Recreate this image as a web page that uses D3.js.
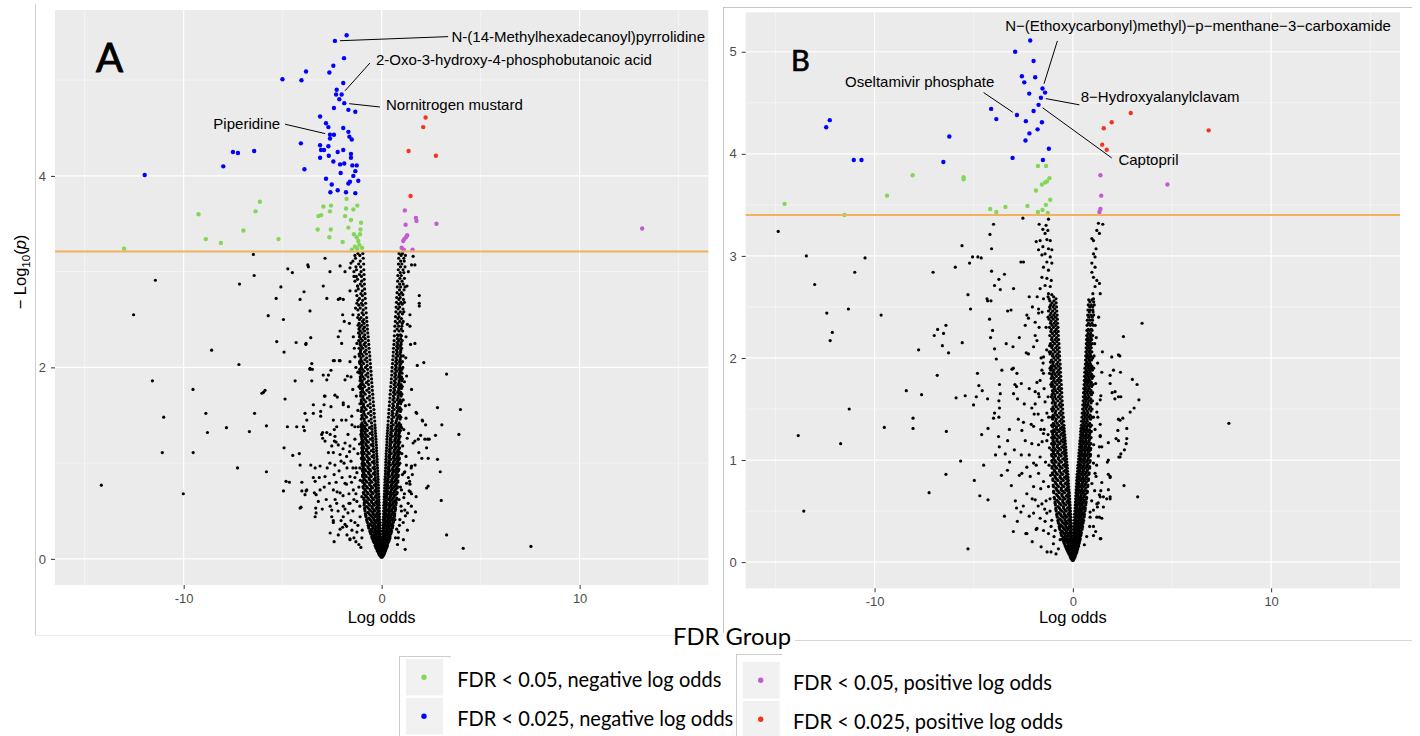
<!DOCTYPE html>
<html>
<head>
<meta charset="utf-8">
<script src="https://cdn.jsdelivr.net/npm/d3@7"></script>
<style>
  html, body { margin: 0; padding: 0; background: #ffffff; }
  svg { display: block; }
</style>
</head>
<body>
<svg id="fig" width="1420" height="736"></svg>
<script>
// ---------- axis ticks ----------
const xTicks = [-10, 0, 10];
const xMinorTicks = [-15, -5, 5, 15];
const yTicksA = [0, 2, 4];
const yMinorA = [1, 3, 5];
const yTicksB = [0, 1, 2, 3, 4, 5];
const yMinorB = [0.5, 1.5, 2.5, 3.5, 4.5];

// significance cut-offs (-log10 p) drawn as horizontal lines
const thresholdA = 3.21;
const thresholdB = 3.40;

// legend groups
const fdrGroups = [
  "FDR < 0.05, negative log odds",
  "FDR < 0.025, negative log odds",
  "FDR < 0.05, positive log odds",
  "FDR < 0.025, positive log odds"
];

// ---------- panel A : [log odds, -log10 p] ----------
const strongNegA = [[-1.77,5.47],[-2.36,5.41],[-1.90,5.23],[-2.44,5.15],[-2.64,5.08],[-3.82,5.09],[-4.05,5.00],[-5.01,5.01],[-1.94,4.97],[-2.27,4.90],[-2.30,4.85],[-2.02,4.85],[-2.14,4.80],[-1.89,4.76],[-2.41,4.71],[-1.68,4.69],[-1.33,4.67],[-3.11,4.62],[-2.81,4.55],[-2.69,4.51],[-1.94,4.50],[-1.68,4.46],[-2.61,4.43],[-2.41,4.43],[-2.61,4.39],[-1.63,4.41],[-1.51,4.38],[-4.08,4.34],[-3.11,4.32],[-2.69,4.31],[-3.06,4.27],[-2.91,4.27],[-1.94,4.27],[-2.22,4.25],[-1.55,4.23],[-2.67,4.21],[-3.11,4.19],[-1.55,4.19],[-7.51,4.25],[-7.26,4.24],[-6.44,4.26],[-8.00,4.10],[-3.90,4.07],[-2.44,4.15],[-2.10,4.12],[-1.89,4.13],[-1.48,4.11],[-1.26,4.11],[-2.07,4.03],[-1.43,4.00],[-2.81,3.97],[-2.52,3.91],[-1.68,3.92],[-1.60,3.94],[-1.18,3.95],[-2.22,3.85],[-2.59,3.83],[-1.80,3.83],[-11.97,4.01],[-1.33,4.05],[-1.33,3.82]];
const weakNegA = [[-13.01,3.24],[-9.25,3.60],[-8.88,3.34],[-8.12,3.30],[-6.98,3.43],[-6.37,3.63],[-6.15,3.73],[-5.21,3.34],[-3.23,3.44],[-3.20,3.58],[-3.06,3.59],[-2.94,3.68],[-2.61,3.63],[-2.56,3.69],[-2.57,3.44],[-2.64,3.36],[-1.97,3.31],[-1.77,3.76],[-1.80,3.66],[-1.85,3.58],[-1.68,3.46],[-1.55,3.54],[-1.43,3.65],[-1.51,3.23],[-1.23,3.69],[-1.04,3.51],[-1.40,3.39],[-1.26,3.36],[-1.18,3.32],[-1.13,3.28],[-1.35,3.26],[-1.23,3.24],[-1.09,3.39],[-0.99,3.25],[-1.07,3.44]];
const weakPosA = [[1.17,3.64],[1.21,3.49],[1.73,3.56],[1.76,3.53],[2.77,3.50],[1.29,3.38],[1.23,3.36],[1.14,3.34],[1.09,3.32],[1.01,3.25],[1.12,3.23],[1.56,3.23],[13.16,3.45]];
const strongPosA = [[2.22,4.61],[2.10,4.51],[1.36,4.26],[2.74,4.21],[1.46,3.79]];
const otherA = [[-6.48,3.18],[-2.86,3.14],[-2.10,3.06],[-1.55,3.09],[-6.44,2.96],[-3.73,3.07],[-3.70,3.05],[-4.74,3.03],[-4.51,2.99],[-2.61,3.00],[-1.85,3.00],[-11.43,2.91],[-7.18,2.87],[-5.09,2.84],[-3.92,2.79],[-2.95,2.85],[-5.33,2.72],[-2.77,2.72],[-2.10,2.72],
[-12.53,2.55],[-8.59,2.18],[-7.21,2.03],[-11.58,1.86],[-9.53,1.77],[-11.01,1.48],[-8.88,1.52],[-8.80,1.32],[-7.84,1.37],[-6.68,1.33],[-6.42,1.52],[-6.05,1.73],[-5.89,1.76],[-11.08,1.11],[-9.52,1.11],[-7.28,0.95],[-5.82,1.39],[-5.82,0.91],[-14.16,0.77],[-10.02,0.68],
[-4.12,2.71],[-3.62,2.59],[-5.73,2.54],[-4.96,2.50],[-5.30,2.27],[-4.93,2.16],[-4.32,2.26],[-3.83,2.24],[-3.58,2.31],[-3.62,1.99],[-3.53,2.04],[-3.50,1.98],[-4.37,1.86],[-3.53,1.86],[-4.88,1.67],[-5.97,1.74],[-3.87,1.52],[-3.45,1.61],[-4.76,1.38],[-4.29,1.38],[-3.95,1.38],[-3.90,1.34],[-4.93,1.16],[-4.49,1.08],[-4.16,1.10],[-4.12,0.98],[-3.58,0.98],[-3.36,0.95],[-4.83,0.81],[-4.66,0.80],[-4.96,0.71],[-4.03,0.80],[-4.03,0.71],[-3.82,0.71],[-3.87,0.67],[-3.45,0.85],[-3.40,0.69],[-3.31,0.67],[-4.07,0.54],[-3.33,0.53],[-3.31,0.48],[-3.36,0.44],[-3.08,1.54],[-3.08,1.49],[-2.98,1.32],[-2.98,1.26],[-2.89,1.70],[-2.19,2.71],[-1.94,2.71],[-2.69,1.92],[-2.77,1.87],[-2.56,1.97],[-2.39,2.07],[-2.10,2.07],[-2.36,1.71],[-2.24,1.69],[-2.39,1.35],[-2.36,1.28],[-2.39,1.23],[-2.19,0.25],[-1.97,0.33],[-1.60,0.21],[-2.44,0.40],[-2.52,0.44],
[-3.82,2.25],[-1.97,2.55],[-1.89,2.48],[-2.10,2.38],[-2.19,2.32],[-2.02,2.25],[-1.63,2.46],[-1.43,2.32],[-1.35,2.11],[-1.60,2.06],[-1.85,1.87],[-1.73,1.91],[-1.46,1.77],[-1.94,1.63],[-1.68,1.59],[-1.51,1.49],[-1.35,1.38],[-2.44,2.07],[-2.14,2.07],
[-3.62,1.98],[-2.95,1.92],[-2.86,1.70],[-2.91,1.61],[-2.56,1.59],[-1.94,1.61],[-3.45,1.52],[-3.78,1.45],[-2.44,1.45],[-2.27,1.38],[-2.02,1.45],[-3.03,1.30],[-2.77,1.32],[-2.86,1.23],[-2.52,1.18],[-2.19,1.19],[-1.85,1.21],[-1.60,1.18],[-2.69,1.11],[-2.44,1.11],[-2.10,1.09],[-1.77,1.07],[-2.61,1.00],[-2.36,0.98],[-3.11,0.97],[-3.36,0.81],[-3.78,0.72],[-4.12,0.53],[-3.11,0.72],[-2.86,0.86],[-2.64,0.79],[-2.44,0.72],[-2.10,0.69],[-1.85,0.79],[-1.60,0.86],[-1.43,0.72],[-2.27,0.58],[-1.94,0.55],[-1.60,0.58],[-2.52,0.51],[-2.44,0.38],[-2.10,0.31],[-1.77,0.34],[-1.94,0.44],[-1.60,0.20],[-1.35,0.38],[-1.09,0.44],
[-1.25,0.60],[-1.15,0.75],[-1.30,0.95],[-1.20,1.10],[-1.45,0.50],[-1.70,0.48],[-2.00,0.85],[-2.30,0.80],[-2.80,0.62],[-1.90,1.00],[-1.55,1.02],[-1.25,0.28],[-1.50,0.30],[-1.00,0.22],[-1.15,0.15],[-2.60,0.27],[-3.00,0.52],[-3.20,0.60],[-1.35,0.85],[-1.65,0.68],[-2.15,0.92],[-1.75,0.95],[-1.40,1.15],[-1.10,0.95],[-1.05,1.30],[-1.20,1.55],[-1.15,1.80],[-1.30,2.00],[-1.25,2.25],[-1.45,2.55],[-1.60,2.80],[-1.40,2.95],[-1.60,3.04],
[-1.05,0.12],[-1.30,0.18],[-1.75,0.25],[-2.05,0.40],[-1.85,0.52],[-1.55,0.40],[-1.20,0.35],[-0.98,0.30],[-1.10,0.55],[-1.40,0.62],[-1.95,0.66],[-2.25,0.70],[-2.60,0.55],[-2.75,0.95],[-2.40,0.88],[-1.78,0.78],[-1.52,0.80],[-1.25,0.90],[-1.00,0.65],[-1.08,0.82],[-1.62,1.12],[-1.95,1.15],[-2.30,1.22],[-2.60,1.30],[-1.35,1.25],[-1.12,1.20],[-1.70,1.30],[-2.05,1.02],[-2.35,0.62],[-2.90,0.75],[-3.15,0.85],[-1.45,0.95],[-1.30,0.68],[-1.65,0.58],[-2.20,0.50],[-1.85,0.36],[-1.40,0.22],[-2.40,0.18],[-1.02,1.05],[-1.18,1.38],[-1.50,1.40],[-1.80,1.45],[-1.10,1.62],[-1.28,1.70],[-1.55,1.90],[-1.20,1.95],[-1.38,2.20],[-1.15,2.40],[-1.32,2.62],[-1.22,2.85],
[3.28,1.93],[2.13,2.05],[1.80,2.02],[2.82,1.58],[3.98,1.56],[3.04,1.40],[2.22,1.40],[2.05,1.45],[3.90,1.30],[2.72,1.29],[1.74,1.53],[1.36,1.31],[1.97,1.29],[2.32,1.25],[1.68,1.23],[1.88,1.11],[2.03,1.05],[2.35,1.05],[2.82,1.04],[1.69,0.98],[1.49,0.95],[2.96,0.91],[2.27,0.74],[1.41,0.81],[1.26,0.79],[1.14,0.90],[3.01,0.61],[1.71,0.49],[3.28,0.25],[4.12,0.11],[7.54,0.13],[1.19,0.10],[1.90,2.67],[1.90,2.64],[1.43,2.55],[1.43,2.43],[1.23,2.32],[1.46,2.24],[1.59,3.16],[1.68,3.07],[1.51,3.07],[1.90,2.75],[1.77,1.52],[2.07,1.44],[1.85,1.25],[2.18,1.25],[2.40,1.25],[2.27,1.16],[1.51,0.97],[2.35,0.76],
[1.43,0.78],[1.39,0.71],[1.51,0.68],[1.74,0.65],[1.12,0.64],[1.34,0.58],[1.17,0.51],[0.92,0.41],[1.09,0.38],[0.76,0.31],[0.84,0.22],[0.67,0.41],[1.68,2.25],[1.26,1.91],[1.51,1.77],[1.09,1.66],[1.39,1.61],[1.23,1.47],[1.01,1.37],[1.29,1.26],[1.59,1.21],[1.06,1.18],[1.23,1.07],[0.92,1.00],[1.17,0.91],
[1.00,0.50],[1.20,0.45],[0.90,0.35],[1.30,0.30],[1.10,0.20],[0.80,0.15],[1.50,0.55],[1.60,0.40],[0.95,0.75],[1.35,0.85],[1.05,0.88],
[0.98,0.55],[1.15,0.68],[0.88,0.62],[1.25,0.98],[1.02,1.10],[1.12,1.35],[1.20,1.60],[1.15,1.85],[1.22,2.10],[1.30,2.45],[1.28,2.85],[1.35,3.00],[0.85,0.28],[0.70,0.22],[1.45,0.70],[1.55,0.88],[1.30,0.48],[1.00,0.72]];

// dense arms of the volcano, one row per -log10 p level: [y, x, x, ...]
const armNegA = [[0.02,-0.01,-0.04],[0.05,-0.02,-0.08,-0.14],[0.08,-0.03,-0.12,-0.21],[0.11,-0.02,-0.09,-0.17,-0.27],[0.14,-0.04,-0.15,-0.26,-0.33],[0.17,-0.05,-0.12,-0.22,-0.38],[0.20,-0.05,-0.18,-0.31,-0.44],[0.23,-0.06,-0.15,-0.27,-0.40,-0.50],[0.26,-0.07,-0.22,-0.36,-0.55],[0.29,-0.06,-0.17,-0.30,-0.47,-0.60],[0.32,-0.08,-0.25,-0.41,-0.64],[0.35,-0.09,-0.20,-0.35,-0.52,-0.68],[0.38,-0.08,-0.28,-0.46,-0.72],[0.41,-0.10,-0.22,-0.38,-0.58,-0.76],[0.44,-0.11,-0.31,-0.50,-0.79],[0.47,-0.10,-0.25,-0.43,-0.63,-0.82],[0.50,-0.12,-0.34,-0.55,-0.84],[0.53,-0.12,-0.27,-0.47,-0.68,-0.86],[0.56,-0.13,-0.37,-0.60,-0.88],[0.59,-0.13,-0.30,-0.50,-0.72,-0.87],[0.62,-0.14,-0.40,-0.64,-0.90],[0.65,-0.14,-0.32,-0.53,-0.76],[0.68,-0.15,-0.43,-0.68,-0.91],[0.71,-0.16,-0.35,-0.56,-0.80],[0.74,-0.16,-0.46,-0.71,-0.93],[0.77,-0.17,-0.37,-0.59,-0.84],[0.80,-0.18,-0.49,-0.74,-0.95],[0.83,-0.18,-0.39,-0.62,-0.87],[0.86,-0.19,-0.52,-0.77,-0.96],[0.89,-0.20,-0.42,-0.65,-0.90],[0.92,-0.20,-0.55,-0.80,-0.97],[0.95,-0.21,-0.44,-0.68,-0.92],[0.98,-0.22,-0.58,-0.83,-0.98],[1.01,-0.23,-0.47,-0.71,-0.94],[1.04,-0.23,-0.60,-0.86,-0.99],[1.07,-0.24,-0.49,-0.74,-0.96],[1.10,-0.25,-0.62,-0.88,-1.00],[1.13,-0.26,-0.52,-0.77,-0.97],[1.16,-0.26,-0.65,-0.90,-1.01],[1.19,-0.27,-0.54,-0.79,-0.98],[1.22,-0.28,-0.67,-0.92,-1.02],[1.25,-0.29,-0.57,-0.82,-0.99],[1.28,-0.30,-0.69,-0.93,-1.02],[1.31,-0.31,-0.59,-0.84,-1.00],[1.34,-0.32,-0.72,-0.95,-1.03],[1.37,-0.33,-0.62,-0.86,-1.01],[1.40,-0.34,-0.74,-0.96,-1.04],[1.44,-0.35,-0.64,-0.88],[1.48,-0.37,-0.76,-0.98],[1.52,-0.38,-0.67,-0.90],[1.56,-0.39,-0.78,-1.00],[1.60,-0.41,-0.70,-0.92],[1.64,-0.42,-0.80,-1.02],[1.68,-0.44,-0.72,-0.95],[1.72,-0.45,-0.83,-1.04],[1.76,-0.47,-0.75,-0.97],[1.80,-0.48,-0.85,-1.06],[1.84,-0.50,-0.77,-0.99],[1.88,-0.51,-0.87,-1.07],[1.92,-0.53,-0.80,-1.01],[1.96,-0.54,-0.89,-1.09],[2.00,-0.56,-0.82,-1.03],[2.04,-0.57,-0.91,-1.10],[2.08,-0.59,-0.85,-1.05],[2.12,-0.60,-0.93,-1.12],[2.16,-0.62,-0.87,-1.07],[2.20,-0.64,-0.95,-1.14],[2.24,-0.65,-0.89,-1.09],[2.28,-0.67,-0.97,-1.16],[2.32,-0.68,-0.92,-1.12],[2.36,-0.70,-0.99,-1.17],[2.40,-0.72,-0.94],[2.44,-0.73,-1.01,-1.19],[2.48,-0.75,-0.97],[2.52,-0.76,-1.04,-1.21],[2.57,-0.78,-0.99],[2.62,-0.80,-1.08],[2.67,-0.81,-1.02,-1.25],[2.72,-0.83,-1.12],[2.77,-0.84,-1.05],[2.82,-0.86,-1.18],[2.87,-0.87,-1.08],[2.92,-0.88,-1.22],[2.97,-0.89,-1.12],[3.02,-0.90,-1.27],[3.08,-0.91,-1.16],[3.14,-0.93,-1.32],[3.19,-0.95,-1.20],
[0.035,-0.03,-0.10],[0.065,-0.05,-0.16],[0.095,-0.06,-0.14,-0.23],[0.125,-0.06,-0.20,-0.30],[0.155,-0.08,-0.19,-0.30],[0.185,-0.09,-0.26,-0.41],[0.215,-0.11,-0.24,-0.37,-0.47],[0.245,-0.12,-0.30,-0.46],[0.275,-0.13,-0.26,-0.40,-0.57],[0.305,-0.14,-0.33,-0.52],[0.335,-0.15,-0.29,-0.45,-0.66],[0.365,-0.16,-0.38,-0.59],[0.395,-0.17,-0.33,-0.52,-0.74],[0.425,-0.18,-0.42,-0.65],[0.455,-0.19,-0.36,-0.56,-0.80],[0.485,-0.20,-0.45,-0.70],[0.515,-0.21,-0.40,-0.61,-0.85],[0.545,-0.22,-0.49,-0.75],[0.575,-0.23,-0.43,-0.65,-0.88],[0.605,-0.24,-0.52,-0.78],[0.635,-0.25,-0.46,-0.69,-0.89],[0.665,-0.26,-0.55,-0.82],[0.695,-0.27,-0.49,-0.72,-0.92],[0.725,-0.28,-0.58,-0.85],[0.755,-0.29,-0.52,-0.76,-0.94],[0.785,-0.30,-0.61,-0.88],[0.815,-0.31,-0.55,-0.79,-0.96],[0.845,-0.32,-0.64,-0.90],[0.875,-0.33,-0.58,-0.82,-0.97],[0.905,-0.34,-0.67,-0.92],[0.935,-0.35,-0.61,-0.85,-0.98],[0.965,-0.36,-0.70,-0.94],[0.995,-0.37,-0.64,-0.88,-0.99],[1.025,-0.38,-0.72,-0.95],[1.055,-0.39,-0.67,-0.90,-1.00],[1.085,-0.40,-0.75,-0.96],[1.115,-0.41,-0.69,-0.92,-1.01],[1.145,-0.42,-0.77,-0.97],[1.175,-0.43,-0.72,-0.94],[1.205,-0.44,-0.80,-0.99],[1.235,-0.45,-0.75,-0.96],[1.265,-0.46,-0.82,-1.00],[1.295,-0.47,-0.77,-0.97],[1.325,-0.48,-0.84,-1.01],[1.355,-0.49,-0.80,-0.98],[1.385,-0.50,-0.86,-1.02],[1.42,-0.51,-0.82,-0.99],[1.46,-0.53,-0.88,-1.03],[1.50,-0.54,-0.84,-1.00],[1.54,-0.55,-0.90,-1.04],[1.58,-0.57,-0.86,-1.01],[1.62,-0.58,-0.92,-1.05],[1.66,-0.60,-0.88,-1.03],[1.70,-0.61,-0.94,-1.06],[1.74,-0.63,-0.91,-1.05],[1.78,-0.64,-0.96,-1.08],[1.82,-0.66,-0.93,-1.07],[1.86,-0.67,-0.98,-1.09],[1.90,-0.69,-0.95,-1.08],[1.94,-0.70,-1.00,-1.10],[1.98,-0.71,-0.97,-1.11],[2.02,-0.73,-1.02],[2.06,-0.74,-0.99,-1.12],[2.10,-0.76,-1.04],[2.14,-0.77,-1.01,-1.14],[2.18,-0.79,-1.06],[2.22,-0.80,-1.03],[2.26,-0.82,-1.08],[2.30,-0.83,-1.05],[2.34,-0.85,-1.10],[2.38,-0.86,-1.08],
[2.42,-0.87,-1.10],[2.46,-0.89,-1.14],[2.50,-0.90,-1.12],[2.55,-0.92,-1.16],[2.60,-0.93,-1.20],[2.65,-0.95,-1.15],[2.70,-0.96,-1.20],[2.75,-0.97,-1.25],[2.80,-0.98,-1.30],[2.85,-0.99,-1.22],[2.90,-1.01,-1.35],[2.95,-1.02,-1.28],[3.00,-1.04,-1.40],[3.05,-1.06,-1.30],[3.11,-1.08,-1.45],[3.17,-1.10,-1.35]];
const armPosA = [[0.02,0.01,0.04],[0.05,0.02,0.07,0.13],[0.08,0.02,0.10,0.18],[0.11,0.03,0.08,0.15,0.23],[0.14,0.03,0.13,0.23,0.29],[0.17,0.04,0.11,0.20,0.33],[0.20,0.04,0.16,0.27,0.38],[0.23,0.05,0.13,0.24,0.35,0.42],[0.26,0.06,0.19,0.31,0.46],[0.29,0.06,0.15,0.27,0.40,0.50],[0.32,0.07,0.22,0.36,0.53],[0.35,0.07,0.17,0.30,0.44,0.56],[0.38,0.08,0.24,0.39,0.59],[0.41,0.08,0.19,0.33,0.48,0.61],[0.44,0.09,0.26,0.43,0.64],[0.47,0.10,0.21,0.36,0.52,0.66],[0.50,0.10,0.29,0.46,0.68],[0.53,0.11,0.23,0.39,0.56,0.70],[0.56,0.11,0.31,0.49,0.71],[0.59,0.12,0.25,0.42,0.59,0.73],[0.62,0.13,0.33,0.52,0.75],[0.65,0.13,0.27,0.44,0.62],[0.68,0.14,0.35,0.55,0.77],[0.71,0.15,0.29,0.47,0.65],[0.74,0.15,0.37,0.58,0.79],[0.77,0.16,0.31,0.49,0.68],[0.80,0.17,0.39,0.60,0.81],[0.83,0.17,0.33,0.52,0.71],[0.86,0.18,0.41,0.63,0.83],[0.89,0.19,0.35,0.54,0.73],[0.92,0.19,0.43,0.65,0.85],[0.95,0.20,0.37,0.57,0.76],[0.98,0.21,0.45,0.67,0.87],[1.01,0.21,0.39,0.59,0.78],[1.04,0.22,0.47,0.69,0.88],[1.07,0.23,0.41,0.61,0.80],[1.10,0.23,0.49,0.71,0.89],[1.13,0.24,0.43,0.63,0.82],[1.16,0.25,0.51,0.73,0.91],[1.19,0.26,0.45,0.65,0.84],[1.22,0.27,0.53,0.75,0.92],[1.25,0.27,0.47,0.68,0.86],[1.28,0.28,0.55,0.77,0.93],[1.31,0.29,0.49,0.70,0.88],[1.34,0.30,0.57,0.79,0.95],[1.37,0.31,0.51,0.72,0.89],[1.40,0.32,0.59,0.81,0.96],[1.44,0.33,0.54,0.74],[1.48,0.35,0.61,0.83,0.97],[1.52,0.36,0.57,0.77],[1.56,0.37,0.63,0.85,0.99],[1.60,0.39,0.60,0.80],[1.64,0.40,0.66,0.87,1.00],[1.68,0.42,0.63,0.83],[1.72,0.43,0.68,0.89,1.02],[1.76,0.45,0.66,0.86],[1.80,0.46,0.71,0.91,1.04],[1.84,0.48,0.69,0.88],[1.88,0.49,0.73,0.93,1.05],[1.92,0.51,0.72,0.90],[1.96,0.52,0.76,0.95],[2.00,0.53,0.74,0.92,1.07],[2.04,0.55,0.78,0.97],[2.08,0.56,0.77,0.94],[2.12,0.58,0.81,0.99,1.09],[2.16,0.59,0.79,0.96],[2.20,0.60,0.83,1.01],[2.24,0.62,0.82,0.98],[2.28,0.63,0.86,1.04],[2.33,0.64,0.84,1.00],[2.38,0.66,0.88,1.06],[2.43,0.67,0.86,1.02],[2.48,0.69,0.91,1.09],[2.53,0.70,0.88],[2.58,0.72,0.94,1.12],[2.63,0.73,0.91],[2.68,0.75,0.97,1.15],[2.73,0.76,0.94],[2.78,0.78,1.00],[2.84,0.79,0.96,1.18],[2.90,0.81,1.03],[2.96,0.82,0.99],[3.02,0.84,1.08],[3.08,0.85,1.02],[3.14,0.86,1.12],[3.19,0.88,1.05],
[0.035,0.03,0.09],[0.065,0.04,0.15],[0.095,0.05,0.13,0.21],[0.125,0.06,0.18,0.27],[0.155,0.07,0.17,0.28],[0.185,0.08,0.23,0.36],[0.215,0.09,0.21,0.32,0.41],[0.245,0.10,0.26,0.40],[0.275,0.11,0.23,0.35,0.48],[0.305,0.12,0.29,0.45],[0.335,0.13,0.26,0.39,0.55],[0.365,0.14,0.32,0.50],[0.395,0.15,0.29,0.44,0.60],[0.425,0.16,0.35,0.54],[0.455,0.17,0.32,0.48,0.65],[0.485,0.18,0.38,0.58],[0.515,0.19,0.35,0.52,0.69],[0.545,0.20,0.41,0.62],[0.575,0.21,0.38,0.56,0.72],[0.605,0.22,0.44,0.65],[0.635,0.23,0.41,0.59,0.76],[0.665,0.24,0.47,0.68],[0.695,0.25,0.44,0.62,0.78],[0.725,0.26,0.50,0.71],[0.755,0.27,0.47,0.65,0.80],[0.785,0.28,0.53,0.74],[0.815,0.29,0.50,0.68,0.82],[0.845,0.30,0.56,0.76],[0.875,0.31,0.52,0.71,0.84],[0.905,0.32,0.58,0.78],[0.935,0.33,0.55,0.73,0.86],[0.965,0.34,0.61,0.80],[0.995,0.35,0.57,0.75,0.88],[1.025,0.36,0.63,0.82],[1.055,0.37,0.60,0.77,0.89],[1.085,0.38,0.65,0.84],[1.115,0.39,0.62,0.79,0.90],[1.145,0.40,0.67,0.86],[1.175,0.41,0.64,0.81],[1.205,0.42,0.69,0.87],[1.235,0.43,0.66,0.83],[1.265,0.44,0.71,0.89],[1.295,0.45,0.68,0.85],[1.325,0.46,0.73,0.90],[1.355,0.47,0.70,0.87],[1.385,0.48,0.75,0.92],[1.42,0.49,0.71,0.88],[1.46,0.51,0.77,0.93],[1.50,0.52,0.74,0.90],[1.54,0.53,0.79,0.95],[1.58,0.55,0.76,0.92],[1.62,0.56,0.81,0.96],[1.66,0.57,0.78,0.94],[1.70,0.59,0.83,0.98],[1.74,0.60,0.80,0.96],[1.78,0.62,0.86,1.00],[1.82,0.63,0.83,0.98],[1.86,0.64,0.88,1.02],[1.90,0.66,0.86,1.00],[1.94,0.67,0.90,1.03],[1.98,0.68,0.88,1.02],[2.02,0.70,0.92],[2.06,0.71,0.90,1.05],[2.10,0.72,0.94],[2.14,0.74,0.92],[2.18,0.75,0.96],[2.22,0.76,0.94],[2.26,0.78,0.98],[2.30,0.79,0.96],
[2.34,0.80,0.95],[2.40,0.78,0.99],[2.46,0.80,1.04],[2.51,0.82,1.00],[2.56,0.84,1.05],[2.61,0.83,1.08],[2.66,0.86,1.04],[2.71,0.87,1.10],[2.76,0.89,1.07],[2.81,0.90,1.13],[2.87,0.91,1.09],[2.93,0.92,1.15],[2.99,0.94,1.12],[3.05,0.95,1.18],[3.11,0.96,1.14],[3.17,0.98,1.20]];

// ---------- panel B ----------
const strongNegB = [[-2.15,5.11],[-2.91,5.00],[-1.98,4.91],[-2.57,4.76],[-1.90,4.75],[-2.45,4.70],[-1.53,4.64],[-1.40,4.60],[-2.20,4.59],[-1.61,4.55],[-1.73,4.48],[-1.98,4.42],[-4.12,4.44],[-3.86,4.34],[-2.82,4.38],[-2.37,4.32],[-1.56,4.31],[-1.78,4.24],[-2.19,4.20],[-2.39,4.13],[-1.21,4.05],[-3.04,3.96],[-1.51,3.94],[-6.23,4.17],[-6.53,3.92],[-12.44,4.26],[-12.26,4.33],[-11.05,3.94],[-10.66,3.94]];
const weakNegB = [[-14.54,3.51],[-11.52,3.40],[-9.37,3.59],[-8.08,3.79],[-5.51,3.77],[-5.51,3.75],[-4.17,3.46],[-3.86,3.43],[-3.40,3.48],[-2.29,3.49],[-1.76,3.88],[-1.35,3.88],[-1.86,3.64],[-1.56,3.70],[-1.40,3.72],[-1.31,3.73],[-1.18,3.76],[-1.36,3.50],[-1.14,3.55],[-1.76,3.43],[-1.53,3.45],[-1.26,3.42]];
const weakPosB = [[1.39,3.79],[1.43,3.59],[1.39,3.46],[1.34,3.43],[4.77,3.70]];
const strongPosB = [[2.92,4.40],[1.96,4.31],[1.56,4.25],[1.48,4.09],[1.71,4.04],[6.85,4.23]];
const otherB = [[-14.86,3.24],[-13.44,3.00],[-13.02,2.72],[-11.00,2.84],[-10.48,2.98],[-7.05,2.84],[-5.93,2.89],[-5.59,3.10],[-5.29,2.62],[-5.21,2.93],[-5.06,2.99],[-4.79,2.99],[-4.62,2.98],[-4.33,2.58],[-4.18,3.21],[-4.10,3.07],[-4.00,3.31],[-4.10,2.85],[-3.95,2.71],[-3.73,2.77],[-3.66,2.67],[-3.45,2.82],[-2.99,2.68],[-2.62,2.94],[-2.52,3.37],[-1.85,3.14],[-1.73,3.06],[-1.70,3.31],[-1.80,2.60],
[-13.85,1.24],[-13.57,0.50],[-12.41,2.44],[-12.13,2.25],[-12.24,2.17],[-11.32,2.48],[-11.28,1.50],[-11.71,1.16],[-9.67,2.42],[-9.51,1.32],[-8.40,1.68],[-8.06,1.41],[-8.06,1.31],[-7.78,2.08],[-7.63,1.64],[-7.25,0.68],[-6.99,2.22],[-6.82,2.28],[-6.84,1.83],[-6.58,2.12],[-6.52,2.24],[-6.40,2.32],[-6.27,2.05],[-6.38,1.28],[-6.40,0.86],[-5.89,1.61],[-5.66,0.99],[-5.58,2.15],[-5.43,1.63],[-5.16,2.48],[-5.29,0.13],[-5.01,1.54],[-4.87,1.62],[-4.97,0.80],[-4.81,1.85],[-4.74,1.73],[-4.57,1.68],[-4.69,0.65],[-4.30,2.56],[-4.13,2.56],[-4.28,1.31],[-4.60,1.25],[-4.20,2.38],[-4.15,2.20],[-4.05,2.27],[-4.28,0.61],[-3.95,2.09],[-3.86,1.99],[-3.73,1.58],[-4.00,1.41],[-3.95,1.46],[-3.70,1.74],[-3.66,1.65],[-3.70,1.51],[-3.73,1.42],[-3.71,1.13],[-3.75,1.23],[-3.41,1.06],[-3.29,1.19],[-3.19,0.98],[-3.58,1.88],[-3.36,2.14],[-3.29,2.46],[-3.12,2.47],[-3.07,1.89],[-3.02,2.11],[-2.92,1.74],[-2.84,1.72],[-2.82,1.85],[-2.79,1.60],[-2.99,1.65],[-2.84,0.53],[-2.62,0.49],[-2.37,0.28],[-1.85,0.32],[-2.04,2.50],[-1.73,2.48],[-1.73,2.44],
[-2.49,2.94],[-2.32,2.42],[-2.24,2.39],[-2.40,2.32],[-1.90,2.22],[-1.81,2.17],[-1.98,2.11],[-2.24,2.04],[-1.48,2.01],
[-1.56,1.88],[-1.48,1.85],[-1.65,1.78],[-1.81,1.76],[-1.90,1.67],[-1.73,1.65],[-1.90,1.55],[-2.07,1.51],[-1.40,1.57],[-1.31,1.46],[-1.56,1.39],[-1.98,1.33],[-2.49,1.37],[-2.57,1.29],[-2.40,1.19],[-2.07,1.16],[-1.73,1.15],[-1.48,1.26],[-1.31,1.19],[-1.65,1.03],[-1.98,0.97],[-2.32,0.93],[-2.57,0.87],[-2.15,0.84],[-1.73,0.87],[-1.48,0.79],[-1.23,0.74],[-1.98,0.74],[-2.32,0.67],[-1.90,0.61],[-1.56,0.57],[-1.31,0.48],[-1.65,0.43],[-1.98,0.48],[-1.06,0.41],[-0.89,0.31],[-1.23,0.28],[-1.48,0.31],[-0.98,0.18],[-0.73,0.13],[-0.64,0.22],[-2.32,0.28],[-1.81,0.33],
[-2.90,0.60],[-3.10,0.75],[-2.70,0.85],[-2.50,0.55],[-2.20,0.45],[-2.80,0.40],[-3.30,0.90],[-2.60,1.05],[-2.95,1.10],[-3.20,1.30],[-2.75,1.40],[-2.45,1.55],[-2.20,1.70],[-2.60,1.75],[-3.00,1.90],[-2.35,2.05],[-2.70,2.20],[-2.10,1.35],[-1.75,1.45],[-1.45,1.70],[-1.60,2.00],[-1.35,2.30],[-1.55,2.45],[-1.90,2.35],[-2.20,2.60],[-1.25,1.25],[-1.20,0.95],[-1.35,0.60],[-1.15,0.50],[-2.05,0.20],[-1.60,0.15],[-1.30,0.10],[-3.60,0.85],[-3.90,1.05],[-4.30,1.60],[-4.50,0.95],[-3.45,0.45],[-3.00,0.30],
[-1.15,0.62],[-1.42,0.52],[-1.62,0.72],[-1.12,0.85],[-1.38,0.98],[-1.18,1.12],[-1.55,1.18],[-1.22,1.42],[-1.45,1.30],[-1.25,1.62],[-1.18,1.85],[-1.32,2.08],[-1.25,2.40],[-0.95,0.25],[-1.10,0.35],[-1.40,0.40],[-1.75,0.55],[-2.05,0.62],[-1.85,0.95],[-2.20,1.05],[-1.62,1.30],[-1.95,1.45],[-1.70,1.62],[-1.50,1.95],[-1.70,2.30],[-1.10,0.10],[-0.85,0.08],
[-1.23,3.36],[-1.35,3.30],[-1.51,3.26],[-1.26,3.25],[-1.40,3.22],[-1.65,3.15],[-1.31,3.16],[-1.14,3.15],[-1.51,3.09],[-1.23,3.07],[-1.06,3.06],[-1.40,3.02],[-1.56,3.01],[-1.14,2.99],[-1.31,2.94],[-1.06,2.93],[-1.48,2.89],[-1.23,2.86],[-1.56,2.79],[-1.31,2.78],[-1.09,2.76],[-1.40,2.71],[-1.14,2.70],[-1.65,2.68],[-1.23,2.63],[-1.06,2.62],[-1.48,2.58],
[1.96,2.01],[2.30,2.03],[1.46,1.86],[1.88,1.83],[2.13,1.67],[1.88,1.75],[2.30,1.62],[1.38,1.59],[1.04,1.42],[2.38,1.39],[1.38,1.23],[2.30,1.19],[2.38,1.03],[1.46,1.13],[1.79,1.00],[1.88,0.84],[0.96,0.77],[1.79,0.71],[1.38,0.64],[1.88,0.64],[1.54,0.54],[1.21,0.44],[0.87,0.49],[1.38,0.23],
[3.49,2.34],[2.55,2.21],[7.87,1.36],[1.49,2.06],[2.37,2.02],[2.05,1.88],[2.40,1.86],[3.00,1.79],[3.24,1.74],[1.98,1.66],[2.12,1.60],[2.42,1.62],[3.33,1.59],[3.09,1.51],[2.89,1.47],[1.41,1.63],[2.52,1.41],[2.30,1.40],[1.26,1.42],[1.21,1.47],[2.72,1.31],[2.27,1.29],[2.72,1.21],[2.18,1.21],[2.69,1.16],[2.60,1.10],[2.42,1.06],[2.32,1.03],[1.38,1.35],[1.79,1.17],[1.38,1.24],[1.34,1.13],[1.29,1.04],[1.74,0.98],[1.04,0.97],[1.12,0.87],[1.17,0.84],[1.79,0.86],[1.88,0.83],[2.58,0.75],[3.27,0.64],[1.46,0.78],[1.41,0.70],[1.34,0.66],[1.54,0.64],[1.71,0.62],[1.88,0.62],[1.21,0.57],[1.24,0.54],[1.04,0.51],[1.34,0.44],[1.46,0.43],[0.87,0.44],[1.04,0.35],[1.04,0.26],[0.58,0.17],[1.41,0.23],
[0.95,0.60],[1.10,0.70],[0.85,0.35],[1.20,0.95],[1.05,1.15],[1.12,1.30],[1.22,1.55],[1.15,1.75],[1.25,1.95],[1.18,2.20],[1.30,2.40],[0.70,0.25],[1.15,0.30],[1.28,0.58],
[1.29,3.32],[1.51,3.31],[1.21,3.25],[1.34,3.22],[0.96,3.17],[1.04,3.15],[1.17,3.07],[1.04,3.02],[1.12,2.99],[0.96,2.93],[1.12,2.89],[0.96,2.84],[1.04,2.79],[1.21,2.76],[1.34,2.73],[1.12,2.70],[1.38,2.63],[1.01,2.63],[1.04,2.58]];

const armNegB = [[0.02,-0.01,-0.04],[0.05,-0.02,-0.08,-0.13],[0.08,-0.02,-0.11,-0.20],[0.11,-0.03,-0.09,-0.17,-0.27],[0.14,-0.03,-0.14,-0.25,-0.34],[0.17,-0.04,-0.12,-0.22,-0.40],[0.20,-0.04,-0.17,-0.31,-0.46],[0.23,-0.05,-0.14,-0.27,-0.41,-0.52],[0.26,-0.05,-0.21,-0.37,-0.57],[0.29,-0.06,-0.17,-0.32,-0.48,-0.61],[0.32,-0.07,-0.24,-0.42,-0.65],[0.35,-0.07,-0.19,-0.35,-0.53,-0.69],[0.38,-0.08,-0.27,-0.46,-0.72],[0.41,-0.09,-0.22,-0.39,-0.58,-0.75],[0.44,-0.10,-0.30,-0.51,-0.78],[0.47,-0.11,-0.24,-0.43,-0.63,-0.81],[0.50,-0.12,-0.33,-0.56,-0.84],[0.53,-0.13,-0.27,-0.47,-0.68,-0.86],[0.56,-0.14,-0.36,-0.60,-0.88],[0.59,-0.15,-0.30,-0.51,-0.73,-0.90],[0.62,-0.16,-0.39,-0.64,-0.92],[0.65,-0.17,-0.33,-0.55,-0.77],[0.68,-0.18,-0.42,-0.68,-0.96],[0.71,-0.20,-0.36,-0.59,-0.81],[0.74,-0.21,-0.45,-0.72,-0.98],[0.77,-0.22,-0.39,-0.62,-0.85],[0.80,-0.23,-0.48,-0.75,-1.00],[0.83,-0.24,-0.42,-0.65,-0.88],[0.86,-0.25,-0.51,-0.78,-1.02],[0.89,-0.27,-0.45,-0.68,-0.91],[0.92,-0.28,-0.54,-0.81,-1.04],[0.95,-0.29,-0.48,-0.71,-0.94],[0.98,-0.30,-0.57,-0.84,-1.05],[1.01,-0.31,-0.51,-0.74,-0.96],[1.04,-0.33,-0.59,-0.86,-1.06],[1.07,-0.34,-0.54,-0.77,-0.98],[1.10,-0.35,-0.62,-0.88,-1.07],[1.13,-0.36,-0.56,-0.79,-0.99],[1.16,-0.38,-0.64,-0.90,-1.07],[1.19,-0.39,-0.59,-0.81,-1.00],[1.22,-0.40,-0.66,-0.91,-1.07],[1.25,-0.41,-0.61,-0.83,-1.01],[1.28,-0.43,-0.68,-0.92,-1.07],[1.31,-0.44,-0.63,-0.85],[1.34,-0.45,-0.70,-0.93,-1.07],[1.38,-0.47,-0.66,-0.87],[1.42,-0.48,-0.72,-0.95,-1.07],[1.46,-0.50,-0.68,-0.89],[1.50,-0.51,-0.74,-0.96,-1.07],[1.54,-0.52,-0.70,-0.90],[1.58,-0.54,-0.76,-0.98],[1.62,-0.55,-0.73,-0.92,-1.08],[1.66,-0.56,-0.78,-0.99],[1.70,-0.57,-0.75,-0.94],[1.74,-0.58,-0.80,-1.01,-1.11],[1.78,-0.60,-0.78,-0.96],[1.82,-0.61,-0.83,-1.04],[1.86,-0.62,-0.80,-0.99],[1.90,-0.63,-0.85,-1.06,-1.15],[1.94,-0.64,-0.82,-1.01],[1.98,-0.66,-0.87,-1.08],[2.02,-0.67,-0.85,-1.03],[2.06,-0.68,-0.89,-1.11,-1.19],[2.10,-0.69,-0.87,-1.06],[2.14,-0.70,-0.92,-1.13],[2.18,-0.72,-0.90,-1.08],[2.22,-0.73,-0.94,-1.16],[2.26,-0.74,-0.92,-1.11],[2.30,-0.75,-0.97,-1.18],[2.34,-0.77,-0.95,-1.13],[2.38,-0.78,-0.99,-1.20],[2.42,-0.79,-0.97,-1.15],[2.46,-0.81,-1.02,-1.23],[2.50,-0.82,-1.00,-1.17],[2.54,-0.84,-1.05],[2.58,-0.85,-1.20],
[0.035,-0.03,-0.09],[0.065,-0.04,-0.15],[0.095,-0.05,-0.14,-0.23],[0.125,-0.06,-0.19,-0.31],[0.155,-0.07,-0.18,-0.30,-0.37],[0.185,-0.08,-0.25,-0.43],[0.215,-0.09,-0.22,-0.36,-0.49],[0.245,-0.10,-0.29,-0.47],[0.275,-0.11,-0.26,-0.42,-0.59],[0.305,-0.12,-0.33,-0.55],[0.335,-0.13,-0.30,-0.48,-0.67],[0.365,-0.14,-0.37,-0.61],[0.395,-0.15,-0.34,-0.54,-0.74],[0.425,-0.16,-0.41,-0.66],[0.455,-0.17,-0.38,-0.59,-0.80],[0.485,-0.18,-0.45,-0.71],[0.515,-0.19,-0.41,-0.63,-0.85],[0.545,-0.20,-0.48,-0.75],[0.575,-0.21,-0.45,-0.67,-0.89],[0.605,-0.23,-0.51,-0.79],[0.635,-0.24,-0.48,-0.71,-0.94],[0.665,-0.25,-0.55,-0.83],[0.695,-0.26,-0.51,-0.75,-0.97],[0.725,-0.28,-0.58,-0.86],[0.755,-0.29,-0.54,-0.79,-0.99],[0.785,-0.30,-0.61,-0.89],[0.815,-0.32,-0.57,-0.82,-1.01],[0.845,-0.33,-0.64,-0.91],[0.875,-0.34,-0.60,-0.85,-1.03],[0.905,-0.36,-0.67,-0.94],[0.935,-0.37,-0.63,-0.87,-1.05],[0.965,-0.38,-0.70,-0.96],[0.995,-0.40,-0.66,-0.90,-1.06],[1.025,-0.41,-0.72,-0.97],[1.055,-0.42,-0.68,-0.92,-1.07],[1.085,-0.44,-0.75,-0.98],[1.115,-0.45,-0.71,-0.94],[1.145,-0.46,-0.77,-0.99],[1.175,-0.48,-0.73,-0.95],[1.205,-0.49,-0.79,-1.00],[1.235,-0.50,-0.75,-0.96],[1.265,-0.52,-0.81,-1.01],[1.295,-0.53,-0.77,-0.97],[1.325,-0.54,-0.82,-1.02],[1.36,-0.56,-0.79,-0.98],[1.40,-0.57,-0.84,-1.02],[1.44,-0.59,-0.81,-0.99],[1.48,-0.60,-0.86,-1.03],[1.52,-0.61,-0.83,-1.00],[1.56,-0.63,-0.88,-1.04],[1.60,-0.64,-0.85,-1.01],[1.64,-0.65,-0.90,-1.05],[1.68,-0.66,-0.87,-1.03],[1.72,-0.68,-0.92,-1.07],[1.76,-0.69,-0.89,-1.05],[1.80,-0.70,-0.94,-1.09],[1.84,-0.71,-0.91,-1.07],[1.88,-0.72,-0.96,-1.11],[1.92,-0.73,-0.93,-1.09],[1.96,-0.75,-0.98,-1.13],[2.00,-0.76,-0.96],[2.04,-0.77,-1.00,-1.15],[2.08,-0.78,-0.98],[2.12,-0.79,-1.03,-1.17],[2.16,-0.81,-1.01],[2.20,-0.82,-1.05],[2.24,-0.83,-1.03],[2.28,-0.84,-1.08],[2.32,-0.86,-1.05],[2.36,-0.87,-1.10],[2.40,-0.88,-1.07],
[2.44,-0.90,-1.10],[2.48,-0.92,-1.14],[2.52,-0.94,-1.12],[2.56,-0.95,-1.16],[2.60,-0.97,-1.25]];
const armPosB = [[0.02,0.01,0.03],[0.05,0.01,0.06,0.11],[0.08,0.02,0.09,0.16],[0.11,0.02,0.07,0.14,0.21],[0.14,0.03,0.11,0.19,0.25],[0.17,0.03,0.09,0.17,0.29],[0.20,0.04,0.13,0.23,0.33],[0.23,0.04,0.11,0.20,0.30,0.37],[0.26,0.05,0.16,0.27,0.40],[0.29,0.05,0.13,0.23,0.34,0.43],[0.32,0.06,0.18,0.30,0.46],[0.35,0.06,0.15,0.26,0.38,0.49],[0.38,0.07,0.20,0.34,0.51],[0.41,0.08,0.17,0.29,0.42,0.54],[0.44,0.09,0.23,0.37,0.56],[0.47,0.09,0.19,0.32,0.46,0.58],[0.50,0.10,0.25,0.41,0.61],[0.53,0.11,0.21,0.35,0.49,0.63],[0.56,0.12,0.28,0.44,0.65],[0.59,0.13,0.24,0.38,0.53,0.67],[0.62,0.14,0.31,0.48,0.69],[0.65,0.15,0.27,0.41,0.57],[0.68,0.16,0.33,0.51,0.72],[0.71,0.17,0.30,0.45,0.61],[0.74,0.18,0.36,0.54,0.75],[0.77,0.19,0.32,0.48,0.64],[0.80,0.20,0.39,0.57,0.78],[0.83,0.21,0.35,0.51,0.67],[0.86,0.22,0.41,0.60,0.81],[0.89,0.24,0.38,0.54,0.70],[0.92,0.25,0.44,0.63,0.84],[0.95,0.26,0.41,0.57,0.73],[0.98,0.27,0.46,0.66,0.86],[1.01,0.29,0.44,0.60,0.76],[1.04,0.30,0.49,0.68,0.88],[1.07,0.31,0.46,0.62,0.78],[1.10,0.32,0.51,0.70,0.89],[1.13,0.34,0.48,0.64,0.80],[1.16,0.35,0.53,0.72,0.91],[1.19,0.36,0.51,0.67,0.82],[1.22,0.38,0.56,0.74,0.92],[1.25,0.39,0.53,0.69,0.84],[1.28,0.40,0.58,0.76,0.93],[1.31,0.41,0.55,0.71],[1.34,0.43,0.60,0.78,0.94],[1.38,0.44,0.58,0.73],[1.42,0.46,0.63,0.80,0.96],[1.46,0.47,0.61,0.76],[1.50,0.49,0.65,0.82,0.97],[1.54,0.50,0.64,0.78],[1.58,0.52,0.67,0.84,0.99],[1.62,0.53,0.66,0.81],[1.66,0.54,0.70,0.86,1.00],[1.70,0.55,0.68,0.83],[1.74,0.57,0.72,0.88,1.02],[1.78,0.58,0.71,0.85],[1.82,0.59,0.75,0.90,1.04],[1.86,0.60,0.73,0.87],[1.90,0.61,0.77,0.92,1.05],[1.94,0.63,0.76,0.89],[1.98,0.64,0.80,0.94],[2.02,0.65,0.78,0.91,1.07],[2.06,0.66,0.82,0.96],[2.10,0.67,0.80,0.93],[2.14,0.68,0.84,0.98,1.10],[2.18,0.69,0.82,0.95],[2.22,0.70,0.86,1.00],[2.27,0.71,0.84,0.97],[2.32,0.72,0.88,1.03,1.13],[2.37,0.73,0.86,0.99],[2.42,0.75,0.90,1.05],[2.47,0.76,0.88,1.01],[2.52,0.78,0.93,1.08],[2.57,0.80,0.96],
[0.035,0.02,0.07],[0.065,0.03,0.12],[0.095,0.04,0.12,0.19],[0.125,0.05,0.16,0.23],[0.155,0.06,0.15,0.23,0.28],[0.185,0.07,0.20,0.31],[0.215,0.08,0.18,0.28,0.35],[0.245,0.09,0.22,0.34],[0.275,0.10,0.20,0.31,0.41],[0.305,0.11,0.25,0.38],[0.335,0.12,0.23,0.35,0.47],[0.365,0.13,0.28,0.43],[0.395,0.14,0.26,0.40,0.52],[0.425,0.15,0.31,0.47],[0.455,0.16,0.29,0.43,0.57],[0.485,0.17,0.34,0.51],[0.515,0.18,0.32,0.47,0.61],[0.545,0.19,0.37,0.55],[0.575,0.20,0.35,0.50,0.65],[0.605,0.21,0.40,0.58],[0.635,0.22,0.38,0.54,0.69],[0.665,0.23,0.43,0.62],[0.695,0.24,0.41,0.57,0.73],[0.725,0.25,0.46,0.65],[0.755,0.27,0.44,0.61,0.76],[0.785,0.28,0.49,0.68],[0.815,0.29,0.47,0.64,0.79],[0.845,0.30,0.51,0.71],[0.875,0.31,0.49,0.67,0.82],[0.905,0.33,0.53,0.74],[0.935,0.34,0.52,0.70,0.85],[0.965,0.35,0.56,0.77],[0.995,0.37,0.55,0.73,0.87],[1.025,0.38,0.58,0.79],[1.055,0.39,0.57,0.75,0.89],[1.085,0.41,0.61,0.81],[1.115,0.42,0.60,0.78,0.90],[1.145,0.43,0.63,0.83],[1.175,0.45,0.62,0.80],[1.205,0.46,0.65,0.85],[1.235,0.47,0.64,0.82],[1.265,0.48,0.67,0.86],[1.295,0.50,0.66,0.84],[1.325,0.51,0.69,0.88],[1.36,0.52,0.68,0.85],[1.40,0.54,0.71,0.89],[1.44,0.55,0.70,0.87],[1.48,0.56,0.73,0.91],[1.52,0.58,0.72,0.89],[1.56,0.59,0.75,0.92],[1.60,0.60,0.74,0.90],[1.64,0.61,0.77,0.94],[1.68,0.62,0.76,0.92],[1.72,0.63,0.79,0.95],[1.76,0.64,0.78,0.93],[1.80,0.66,0.81,0.97],[1.84,0.67,0.80,0.95],[1.88,0.68,0.83,0.98],[1.92,0.69,0.82,0.96],[1.96,0.70,0.85],[2.00,0.71,0.84,1.00],[2.04,0.72,0.87],[2.08,0.73,0.86],[2.12,0.74,0.89],[2.16,0.75,0.88],[2.20,0.76,0.91],[2.24,0.77,0.90],
[2.28,0.78,0.93],[2.34,0.79,0.96],[2.40,0.81,0.98],[2.45,0.83,1.02],[2.50,0.85,1.00],[2.55,0.86,1.05]];

// labelled compounds: point, text anchor and leader end (data units)
const namesA = ["N-(14-Methylhexadecanoyl)pyrrolidine", "2-Oxo-3-hydroxy-4-phosphobutanoic acid", "Nornitrogen mustard", "Piperidine"];
const namesB = ["N\u2212(Ethoxycarbonyl)methyl)\u2212p\u2212menthane\u22123\u2212carboxamide", "Oseltamivir phosphate", "8\u2212Hydroxyalanylclavam", "Captopril"];
const labelPointsA = [[-2.36,5.41],[-2.02,4.85],[-1.89,4.76],[-2.61,4.43]];
const labelPointsB = [[-1.53,4.64],[-2.82,4.38],[-1.61,4.55],[-1.73,4.48]];
const labelSpotsA = [
  {tx: 3.53, ty: 5.455, anchor: "start", sx: 3.36, sy: 5.455},
  {tx: -0.29, ty: 5.22, anchor: "start", sx: -0.59, sy: 5.18},
  {tx: 0.22, ty: 4.75, anchor: "start", sx: -0.09, sy: 4.72},
  {tx: -5.13, ty: 4.55, anchor: "end", sx: -4.88, sy: 4.54}
];
const labelSpotsB = [
  {tx: -3.41, ty: 5.26, anchor: "start", sx: -0.78, sy: 5.106},
  {tx: -3.96, ty: 4.71, anchor: "end", sx: -4.50, sy: 4.60},
  {tx: 0.40, ty: 4.56, anchor: "start", sx: 0.33, sy: 4.48},
  {tx: 2.30, ty: 3.94, anchor: "start", sx: 1.96, sy: 3.96}
];

// ---------- drawing ----------
const palette = ["#84d65a", "#0000ff", "#c35cd0", "#f2351f"];
const svg = d3.select("#fig");
const sansFont = "'Liberation Sans', Arial, Helvetica, sans-serif";
const legendFont = "Lato, 'Open Sans', sans-serif";

const toPts = arr => arr.map(([x, y]) => ({x, y}));
const fromRows = rows => rows.flatMap(([y, ...xs]) => xs.map(x => ({x, y})));
const fmtTick = d => (d < 0 ? "-" + Math.abs(d) : String(d));

// page frames around the two figure panels
function frameLine(x1, y1, x2, y2, color) {
  svg.append("line").attr("x1", x1).attr("y1", y1).attr("x2", x2).attr("y2", y2)
    .attr("stroke", color).attr("stroke-width", 1).attr("shape-rendering", "crispEdges");
}
frameLine(35, 4, 35, 635, "#cfcfcf");
frameLine(35, 635, 723, 635, "#ececec");
frameLine(723, 7, 723, 633, "#c6c6c6");
frameLine(723, 7, 1412, 7, "#c6c6c6");
frameLine(795, 640, 1412, 640, "#d6d6d6");

function drawPanel(cfg) {
  const x = d3.scaleLinear().domain([-16.5, 16.5]).range(cfg.xRange);
  const y = d3.scaleLinear().domain(cfg.yDomain).range(cfg.yRange);
  const g = svg.append("g");
  const [left, right] = cfg.xRange;
  const [bottom, top] = cfg.yRange;

  g.append("rect").attr("x", left).attr("y", top)
    .attr("width", right - left).attr("height", bottom - top).attr("fill", "#ebebeb");

  // grid
  g.selectAll(".vmin").data(xMinorTicks).join("line")
    .attr("x1", d => x(d)).attr("x2", d => x(d)).attr("y1", top).attr("y2", bottom)
    .attr("stroke", "#fafafa").attr("stroke-width", 0.6);
  g.selectAll(".hmin").data(cfg.yMinor).join("line")
    .attr("y1", d => y(d)).attr("y2", d => y(d)).attr("x1", left).attr("x2", right)
    .attr("stroke", "#fafafa").attr("stroke-width", 0.6);
  g.selectAll(".vmaj").data(xTicks).join("line")
    .attr("x1", d => x(d)).attr("x2", d => x(d)).attr("y1", top).attr("y2", bottom)
    .attr("stroke", "#ffffff").attr("stroke-width", 1.2);
  g.selectAll(".hmaj").data(cfg.yTicks).join("line")
    .attr("y1", d => y(d)).attr("y2", d => y(d)).attr("x1", left).attr("x2", right)
    .attr("stroke", "#ffffff").attr("stroke-width", 1.2);

  // non-significant compounds
  const grey = toPts(cfg.other).concat(fromRows(cfg.armNeg), fromRows(cfg.armPos));
  g.append("g").selectAll("circle").data(grey).join("circle")
    .attr("cx", d => x(d.x)).attr("cy", d => y(d.y)).attr("r", 1.6).attr("fill", "#000");

  // significant compounds, by FDR group
  const groups = [[cfg.weakNeg, palette[0]], [cfg.weakPos, palette[2]], [cfg.strongNeg, palette[1]], [cfg.strongPos, palette[3]]];
  groups.forEach(([pts, col]) => {
    g.append("g").selectAll("circle").data(toPts(pts)).join("circle")
      .attr("cx", d => x(d.x)).attr("cy", d => y(d.y)).attr("r", 2.2).attr("fill", col);
  });

  // significance threshold
  g.append("line").attr("x1", left).attr("x2", right)
    .attr("y1", y(cfg.threshold)).attr("y2", y(cfg.threshold))
    .attr("stroke", "#f0b25e").attr("stroke-width", 2);

  // axes
  const xAxis = g.append("g").attr("transform", `translate(0,${bottom})`)
    .call(d3.axisBottom(x).tickValues(xTicks).tickSize(4).tickPadding(4.5).tickFormat(fmtTick));
  const yAxis = g.append("g").attr("transform", `translate(${left},0)`)
    .call(d3.axisLeft(y).tickValues(cfg.yTicks).tickSize(4).tickPadding(5).tickFormat(fmtTick));
  [xAxis, yAxis].forEach(a => {
    a.attr("font-family", sansFont).attr("font-size", 13);
    a.select(".domain").remove();
    a.selectAll("line").attr("stroke", "#333333").attr("stroke-width", 1);
    a.selectAll("text").attr("fill", "#4d4d4d");
  });

  // axis title
  g.append("text").attr("x", x(0)).attr("y", 623).attr("text-anchor", "middle")
    .attr("font-family", sansFont).attr("font-size", 16.5).attr("fill", "#000").text("Log odds");

  // labels with leader lines
  cfg.names.forEach((name, i) => {
    const [px, py] = cfg.labelPoints[i];
    const s = cfg.labelSpots[i];
    const x0 = x(px), y0 = y(py), x1 = x(s.sx), y1 = y(s.sy);
    const len = Math.hypot(x1 - x0, y1 - y0);
    const trim = 5 / len;
    g.append("line")
      .attr("x1", x0 + (x1 - x0) * trim).attr("y1", y0 + (y1 - y0) * trim)
      .attr("x2", x1).attr("y2", y1)
      .attr("stroke", "#000").attr("stroke-width", 1);
    g.append("text").attr("x", x(s.tx)).attr("y", y(s.ty)).attr("dy", "0.36em")
      .attr("text-anchor", s.anchor).attr("font-family", sansFont).attr("font-size", 15)
      .attr("fill", "#000").text(name);
  });

  // panel letter
  g.append("text").attr("x", cfg.letterPos[0]).attr("y", cfg.letterPos[1])
    .attr("font-family", legendFont).attr("font-size", cfg.letterSize).attr("fill", "#000")
    .attr("stroke", "#000").attr("stroke-width", cfg.letterStroke)
    .text(cfg.letter);
  return {x, y};
}

drawPanel({
  xRange: [55, 708.3], yDomain: [-0.273, 5.733], yRange: [585, 10],
  yTicks: yTicksA, yMinor: yMinorA, threshold: thresholdA,
  other: otherA, armNeg: armNegA, armPos: armPosA,
  weakNeg: weakNegA, strongNeg: strongNegA, weakPos: weakPosA, strongPos: strongPosA,
  names: namesA, labelPoints: labelPointsA, labelSpots: labelSpotsA,
  letter: "A", letterPos: [96, 72], letterSize: 40, letterStroke: 1.0
});
drawPanel({
  xRange: [745.7, 1400], yDomain: [-0.2565, 5.3865], yRange: [588.3, 12.3],
  yTicks: yTicksB, yMinor: yMinorB, threshold: thresholdB,
  other: otherB, armNeg: armNegB, armPos: armPosB,
  weakNeg: weakNegB, strongNeg: strongNegB, weakPos: weakPosB, strongPos: strongPosB,
  names: namesB, labelPoints: labelPointsB, labelSpots: labelSpotsB,
  letter: "B", letterPos: [791, 70.7], letterSize: 29, letterStroke: 0.7
});

// y axis title of panel A
const yTitle = svg.append("text")
  .attr("transform", "translate(25.5,272) rotate(-90)")
  .attr("text-anchor", "middle").attr("font-family", sansFont).attr("font-size", 16.5).attr("fill", "#000");
yTitle.append("tspan").text("\u2212 Log");
yTitle.append("tspan").attr("font-size", 11.5).attr("dy", 4).text("10");
yTitle.append("tspan").attr("dy", -4).text("(");
yTitle.append("tspan").attr("font-style", "italic").text("p");
yTitle.append("tspan").text(")");

// ---------- legend ----------
const legend = svg.append("g");
legend.append("text").attr("x", 673).attr("y", 645)
  .attr("font-family", legendFont).attr("font-size", 23).attr("fill", "#000")
  .attr("textLength", 118).attr("lengthAdjust", "spacingAndGlyphs").text("FDR Group");

const legendCols = [
  {frameX: 399, frameY: 656.5, frameW: 52, boxX: 406, textX: 457.3, top: 659, groups: [0, 1], widths: [264, 276]},
  {frameX: 736, frameY: 654.5, frameW: 46, boxX: 742.7, textX: 793, top: 662, groups: [2, 3], widths: [259, 270]}
];
legendCols.forEach(col => {
  legend.append("line").attr("x1", col.frameX).attr("x2", col.frameX).attr("y1", col.frameY).attr("y2", 736)
    .attr("stroke", "#cccccc").attr("shape-rendering", "crispEdges");
  legend.append("line").attr("x1", col.frameX).attr("x2", col.frameX + col.frameW).attr("y1", col.frameY).attr("y2", col.frameY)
    .attr("stroke", "#cccccc").attr("shape-rendering", "crispEdges");
  col.groups.forEach((gi, r) => {
    const top = col.top + r * 39;
    legend.append("rect").attr("x", col.boxX).attr("y", top).attr("width", 37).attr("height", 36.5)
      .attr("fill", "#f1f1f1");
    legend.append("circle").attr("cx", col.boxX + 18).attr("cy", top + 18.3).attr("r", 2.7)
      .attr("fill", palette[gi]);
    legend.append("text").attr("x", col.textX).attr("y", top + 27.7)
      .attr("font-family", legendFont).attr("font-size", 21).attr("fill", "#000")
      .attr("textLength", col.widths[r]).attr("lengthAdjust", "spacingAndGlyphs")
      .text(fdrGroups[gi]);
  });
});
</script>
</body>
</html>
